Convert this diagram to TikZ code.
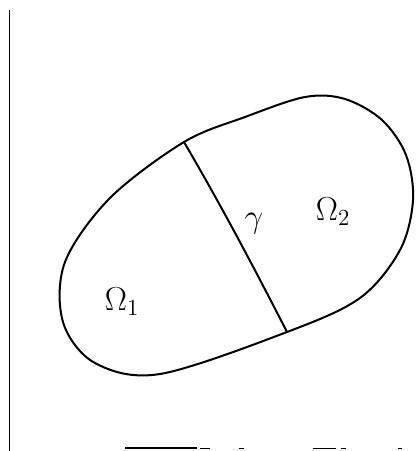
\documentclass[tikz,border=0pt]{standalone}
\usetikzlibrary{positioning}
\begin{document}
\begin{tikzpicture}[x=1pt,y=-1pt]
			\useasboundingbox (0,0) rectangle (416,451);
			\tikzstyle{edge}=[black, line width=2pt, line join=round, line cap=round]
			\tikzstyle{frame}=[black, line width=1pt]
			\tikzstyle{lab}=[font=\huge, scale=1.6]
			% frame pieces
			\coordinate (T) at (9,10);
			\coordinate (S) at (9,451);
			\draw[frame] (T) -- (S);
			\draw[frame, line width=1.4pt] (125,448) -- (197,448);
			\draw[frame] (200,448) -- (210,448);
			\draw[frame] (239,448) -- (244,448);
			\draw[frame] (313,448) -- (336,448);
			\draw[frame] (341,448) -- (346,448);
			\draw[frame] (398,448) -- (402,448);
			% ends of gamma on the boundary
			\coordinate (A) at (184,142);
			\coordinate (B) at (287,332);
			\draw[edge] plot[smooth cycle, tension=0.55] coordinates {
				(A) (245,117) (305,97) (345,99) (382,120) (406,155) (413,200) (400,250) (360,298)
				(B) (160,374) (95,363) (63,322) (65,262) (110,198)};
			\draw[edge] (A) .. controls (215,195) and (245,250) .. (B);
			\node[lab] (g) at (254,224) {$\gamma$};
			\node[lab] (O2) at (333,212) {$\Omega_2$};
			\node[lab] (O1) at (122,302) {$\Omega_1$};
\end{tikzpicture}
\end{document}
